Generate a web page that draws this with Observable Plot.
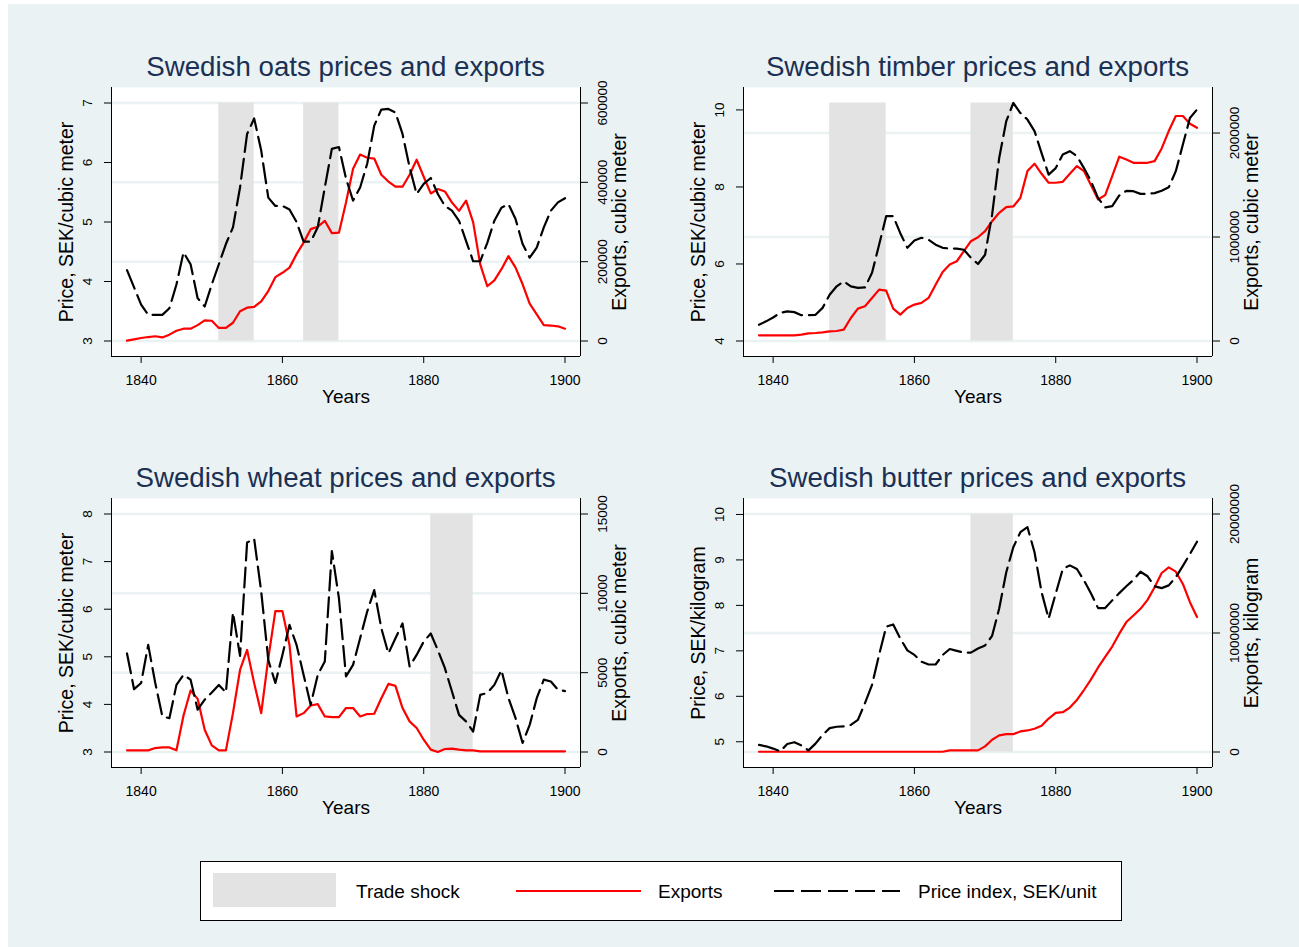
<!DOCTYPE html>
<html><head><meta charset="utf-8">
<script src="https://cdn.jsdelivr.net/npm/d3@7"></script>
<script src="https://cdn.jsdelivr.net/npm/@observablehq/plot@0.6"></script>
<style>
body{margin:0;background:#fff;font-family:"Liberation Sans",Arial,sans-serif;}
#wrap{position:relative;width:1299px;height:947px;overflow:hidden;background:#fff;}
#bg{position:absolute;left:8px;top:4px;right:0;bottom:0;background:#eaf2f3;}
.panel{position:absolute;}
.title{position:absolute;width:600px;text-align:center;font-size:27.7px;line-height:27px;color:#1a3054;white-space:nowrap;}
#legend{position:absolute;left:0;top:0;}
</style></head><body>
<div id="wrap"><div id="bg"></div></div>
<script>
// ---------- data ----------
const years = [1838,1839,1840,1841,1842,1843,1844,1845,1846,1847,
  1848,1849,1850,1851,1852,1853,1854,1855,1856,1857,
  1858,1859,1860,1861,1862,1863,1864,1865,1866,1867,
  1868,1869,1870,1871,1872,1873,1874,1875,1876,1877,
  1878,1879,1880,1881,1882,1883,1884,1885,1886,1887,
  1888,1889,1890,1891,1892,1893,1894,1895,1896,1897,
  1898,1899,1900];
const xTicks = [1840,1860,1880,1900];

const oatsPrice = [4.19,3.90,3.61,3.44,3.44,3.44,3.55,3.95,4.49,4.29,
  3.72,3.58,3.95,4.29,4.63,4.91,5.58,6.48,6.74,6.20,
  5.41,5.27,5.27,5.21,5.00,4.67,4.67,4.91,5.58,6.23,
  6.26,5.73,5.36,5.58,5.98,6.62,6.89,6.90,6.84,6.48,
  5.92,5.47,5.64,5.74,5.47,5.27,5.19,5.02,4.68,4.34,
  4.34,4.65,5.02,5.24,5.30,5.05,4.63,4.40,4.57,4.91,
  5.19,5.33,5.40];
const oatsExports = [800,4200,7600,10000,12000,9000,16000,26000,31000,31000,
  40000,52000,51000,33000,33000,46000,75000,84000,86000,100000,
  126000,161000,172000,185000,219000,248000,282000,288000,303000,272000,
  273000,349000,434000,470000,462000,460000,419000,402000,389000,389000,
  419000,457000,414000,372000,383000,377000,349000,328000,354000,299000,
  193000,138000,153000,181000,214000,185000,143000,94000,67000,40000,
  39000,37000,31000];
const oatsShocks = [[1851,1856],[1863,1868]];
const oatsPriceTicks = [3,4,5,6,7];
const oatsExportTicks = [0,200000,400000,600000];
const oatsAxisLink = [[0,3],[600000,7]];

const timberPrice = [4.42,4.51,4.61,4.73,4.77,4.75,4.67,4.67,4.68,4.86,
  5.20,5.42,5.55,5.42,5.38,5.39,5.77,6.50,7.24,7.24,
  6.80,6.42,6.61,6.68,6.63,6.50,6.42,6.40,6.40,6.37,
  6.16,6.00,6.24,7.28,8.75,9.71,10.18,9.92,9.75,9.45,
  8.88,8.32,8.49,8.84,8.93,8.80,8.49,8.15,7.71,7.47,
  7.50,7.78,7.90,7.89,7.82,7.82,7.84,7.90,7.99,8.41,
  9.10,9.79,10.01];
const timberExports = [55000,55000,55000,55000,55000,55000,61000,74000,77000,83000,
  93000,96000,109000,221000,311000,334000,414000,494000,485000,311000,
  254000,318000,350000,366000,414000,542000,664000,735000,767000,864000,
  960000,998000,1056000,1152000,1233000,1287000,1294000,1377000,1634000,1705000,
  1608000,1522000,1522000,1531000,1608000,1682000,1634000,1499000,1361000,1403000,
  1586000,1772000,1746000,1714000,1714000,1714000,1730000,1852000,2019000,2164000,
  2164000,2090000,2051000];
const timberShocks = [[1848,1856],[1868,1874]];
const timberPriceTicks = [4,6,8,10];
const timberExportTicks = [0,1000000,2000000];
const timberAxisLink = [[0,4],[2000000,9.40]];

const wheatPrice = [5.07,4.32,4.45,5.25,4.45,3.75,3.71,4.41,4.62,4.52,
  3.89,4.10,4.25,4.41,4.25,5.93,5.02,7.40,7.48,6.37,
  4.93,4.45,5.04,5.67,5.25,4.62,3.99,4.62,4.90,7.22,
  6.23,4.59,4.83,5.39,5.95,6.40,5.60,5.07,5.39,5.70,
  4.80,5.04,5.32,5.49,5.14,4.76,4.27,3.78,3.64,3.43,
  4.20,4.24,4.41,4.72,4.13,3.71,3.19,3.57,4.13,4.52,
  4.48,4.31,4.28];
const wheatExports = [105,105,105,105,250,290,290,105,2300,3880,
  3350,1400,420,105,105,2450,5170,6430,4340,2450,
  5900,8880,8880,6750,2240,2450,2930,3020,2240,2200,
  2200,2770,2770,2240,2390,2410,3390,4290,4170,2770,
  1930,1510,775,150,0,190,210,150,105,105,
  40,40,40,40,40,40,40,40,40,40,
  40,40,40];
const wheatShocks = [[1881,1887]];
const wheatPriceTicks = [3,4,5,6,7,8];
const wheatExportTicks = [0,5000,10000,15000];
const wheatAxisLink = [[0,3],[15000,8]];

const butterPrice = [4.93,4.90,4.85,4.79,4.95,4.99,4.92,4.81,4.96,5.15,
  5.30,5.33,5.34,5.37,5.48,5.85,6.25,6.91,7.53,7.58,
  7.27,7.01,6.91,6.76,6.70,6.70,6.91,7.04,7.00,6.96,
  6.96,7.05,7.12,7.33,7.93,8.73,9.28,9.61,9.72,9.17,
  8.29,7.71,8.26,8.80,8.88,8.80,8.55,8.26,7.94,7.94,
  8.11,8.27,8.42,8.56,8.74,8.64,8.42,8.38,8.44,8.62,
  8.87,9.13,9.40];
const butterExports = [20000,20000,20000,20000,20000,20000,20000,20000,20000,20000,
  20000,20000,20000,20000,20000,20000,20000,20000,20000,20000,
  20000,20000,20000,20000,20000,20000,20000,139000,139000,139000,
  139000,139000,474000,1031000,1393000,1504000,1504000,1727000,1811000,1950000,
  2200000,2813000,3287000,3343000,3733000,4373000,5209000,6100000,7103000,7994000,
  8858000,9944000,10919000,11476000,12033000,12785000,13844000,15042000,15515000,15153000,
  14123000,12590000,11337000];
const butterShocks = [[1868,1874]];
const butterPriceTicks = [5,6,7,8,9,10];
const butterExportTicks = [0,10000000,20000000];
const butterAxisLink = [[0,4.775],[20000000,10.01]];

const legendLabels = ["Trade shock","Exports","Price index, SEK/unit"];

// ---------- layout ----------
const FONT = '"Liberation Sans", Arial, sans-serif';
const BG = "#eaf2f3", SHADE = "#e3e3e3", RED = "#ff0000", DASH = "20,7";
const panels = [
  {title:"Swedish oats prices and exports", price:oatsPrice, exports:oatsExports, shocks:oatsShocks,
   lt:oatsPriceTicks, rt:oatsExportTicks, link:oatsAxisLink,
   yLabel:"Price, SEK/cubic meter", y2Label:"Exports, cubic meter", left:40, top:80},
  {title:"Swedish timber prices and exports", price:timberPrice, exports:timberExports, shocks:timberShocks,
   lt:timberPriceTicks, rt:timberExportTicks, link:timberAxisLink,
   yLabel:"Price, SEK/cubic meter", y2Label:"Exports, cubic meter", left:672, top:80},
  {title:"Swedish wheat prices and exports", price:wheatPrice, exports:wheatExports, shocks:wheatShocks,
   lt:wheatPriceTicks, rt:wheatExportTicks, link:wheatAxisLink,
   yLabel:"Price, SEK/cubic meter", y2Label:"Exports, cubic meter", left:40, top:491},
  {title:"Swedish butter prices and exports", price:butterPrice, exports:butterExports, shocks:butterShocks,
   lt:butterPriceTicks, rt:butterExportTicks, link:butterAxisLink,
   yLabel:"Price, SEK/kilogram", y2Label:"Exports, kilogram", left:672, top:491}
];

const wrap = document.getElementById("wrap");
const W = 600, H = 330, ML = 71, MR = 60, MT = 7, MB = 54;
const FW = W - ML - MR, FH = H - MT - MB, PAD = 15.5;

for (const cfg of panels) {
  const [[e0,p0],[e1,p1]] = cfg.link;
  const pos = e => p0 + (e - e0) * (p1 - p0) / (e1 - e0);
  const data = years.map((yr,i) => ({year:yr, price:cfg.price[i], exp:pos(cfg.exports[i])}));
  const lo = Math.min(cfg.lt[0], pos(0), d3.min(cfg.price));
  const hi = Math.max(cfg.lt[cfg.lt.length-1], d3.max(cfg.price), pos(cfg.rt[cfg.rt.length-1]));
  const yPad = (hi - lo) * PAD / (FH - 2*PAD);
  const x0 = d3.min(years), x1 = d3.max(years);
  const xPad = (x1 - x0) * PAD / (FW - 2*PAD);
  const xmin = x0 - xPad, xmax = x1 + xPad, ymin = lo - yPad, ymax = hi + yPad;
  const rightPos = cfg.rt.map(t => ({v:pos(t), label:String(t)}));
  const shocks = cfg.shocks.map(([a,b]) => ({a, b}));

  const svg = Plot.plot({
    width:W, height:H, marginLeft:ML, marginRight:MR, marginTop:MT, marginBottom:MB,
    style:{background:"transparent", fontFamily:FONT, color:"black", overflow:"visible"},
    x:{domain:[xmin,xmax], axis:null, label:null},
    y:{domain:[ymin,ymax], axis:null, label:null},
    marks:[
      Plot.frame({fill:"white", stroke:"none"}),
      Plot.ruleY(rightPos, {y:"v", stroke:BG, strokeWidth:2.5}),
      Plot.rect(shocks, {x1:"a", x2:"b", y1:() => lo, y2:() => hi, fill:SHADE}),
      Plot.line(data, {x:"year", y:"exp", stroke:RED, strokeWidth:2.2}),
      Plot.line(data, {x:"year", y:"price", stroke:"black", strokeWidth:2.2, strokeDasharray:DASH}),
      Plot.ruleX([xmin], {stroke:"black", strokeWidth:1}),
      Plot.ruleX([xmax], {stroke:"black", strokeWidth:1}),
      Plot.ruleY([ymin], {stroke:"black", strokeWidth:1}),
      Plot.axisY(cfg.lt, {anchor:"left", tickSize:7, tickFormat:() => "", label:null, stroke:"black"}),
      Plot.axisY(rightPos.map(d => d.v), {anchor:"right", tickSize:7, tickFormat:() => "", label:null, stroke:"black"}),
      Plot.axisX(xTicks, {anchor:"bottom", tickSize:7, tickPadding:12, fontSize:14, label:null,
        tickFormat:d => String(d), stroke:"black", fill:"black"}),
      Plot.text(cfg.lt, {frameAnchor:"left", y:d => d, text:d => String(d), rotate:-90, dx:-24,
        textAnchor:"middle", lineAnchor:"middle", fontSize:13.5, fill:"black"}),
      Plot.text(rightPos, {frameAnchor:"right", y:"v", text:"label", rotate:-90, dx:22,
        textAnchor:"middle", lineAnchor:"middle", fontSize:13.5, fill:"black"}),
      Plot.text([cfg.yLabel], {frameAnchor:"left", text:d => d, rotate:-90, dx:-45,
        textAnchor:"middle", lineAnchor:"middle", fontSize:19.5, fill:"black"}),
      Plot.text([cfg.y2Label], {frameAnchor:"right", text:d => d, rotate:-90, dx:39,
        textAnchor:"middle", lineAnchor:"middle", fontSize:19.5, fill:"black"}),
      Plot.text(["Years"], {frameAnchor:"bottom", text:d => d, dy:40,
        textAnchor:"middle", lineAnchor:"middle", fontSize:19, fill:"black"})
    ]
  });
  const holder = document.createElement("div");
  holder.className = "panel";
  holder.style.left = cfg.left + "px";
  holder.style.top = cfg.top + "px";
  holder.appendChild(svg);
  wrap.appendChild(holder);

  const t = document.createElement("div");
  t.className = "title";
  t.textContent = cfg.title;
  t.style.left = (cfg.left + ML + FW/2 - 300) + "px";
  t.style.top = (cfg.top - 27.5) + "px";
  wrap.appendChild(t);
}

// ---------- legend ----------
const ns = "http://www.w3.org/2000/svg";
const lg = document.createElementNS(ns, "svg");
lg.setAttribute("id","legend");
lg.setAttribute("width","1299"); lg.setAttribute("height","947");
lg.style.position = "absolute"; lg.style.left = "0"; lg.style.top = "0";
function el(name, attrs, text){
  const e = document.createElementNS(ns, name);
  for (const k in attrs) e.setAttribute(k, attrs[k]);
  if (text) e.textContent = text;
  lg.appendChild(e); return e;
}
el("rect",{x:200.5,y:861.5,width:921,height:59,fill:"white",stroke:"black","stroke-width":1});
el("rect",{x:213,y:873,width:123,height:34,fill:SHADE});
el("line",{x1:516,x2:641,y1:891,y2:891,stroke:RED,"stroke-width":2.2});
el("line",{x1:774,x2:900,y1:891,y2:891,stroke:"black","stroke-width":2.2,"stroke-dasharray":DASH});
const lx = [356,658,918];
legendLabels.forEach((s,i) => el("text",{x:lx[i],y:897.5,"font-size":19,"font-family":FONT,fill:"black"}, s));
wrap.appendChild(lg);
</script>
</body></html>
